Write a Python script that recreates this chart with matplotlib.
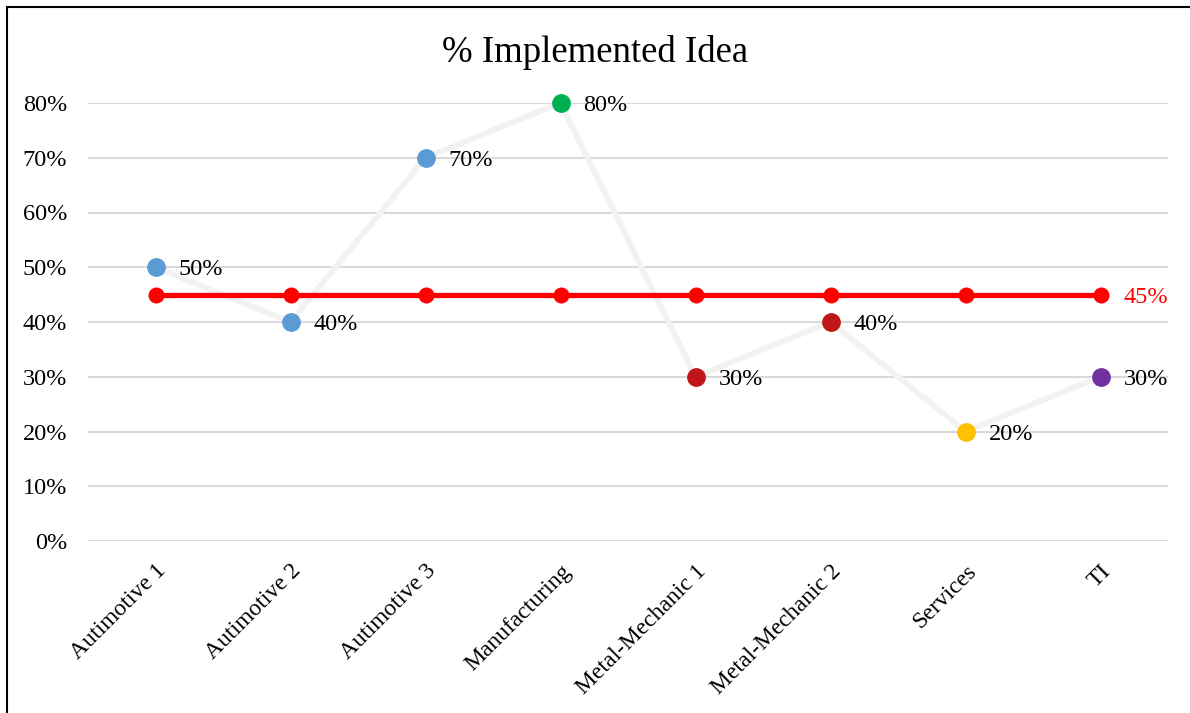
import matplotlib
matplotlib.use("Agg")
import matplotlib.pyplot as plt
from matplotlib.patches import Rectangle

categories = ["Autimotive 1", "Autimotive 2", "Autimotive 3", "Manufacturing",
              "Metal-Mechanic 1", "Metal-Mechanic 2", "Services", "TI"]
implemented = [0.50, 0.40, 0.70, 0.80, 0.30, 0.40, 0.20, 0.30]
point_colors = ["#5B9BD5", "#5B9BD5", "#5B9BD5", "#00B050",
                "#C0161A", "#C0161A", "#FFC000", "#7030A0"]
target = [0.45] * len(categories)
yticks = [0, 0.1, 0.2, 0.3, 0.4, 0.5, 0.6, 0.7, 0.8]

plt.rcParams['font.family'] = ['Liberation Serif', 'DejaVu Serif']

fig = plt.figure(figsize=(11.9, 7.13), dpi=100)
ax = fig.add_axes([88/1190, 172/713, 1080/1190, 438/713])

x = list(range(len(categories)))
ax.plot(x, implemented, color="#F2F2F2", lw=4.2, zorder=2, solid_capstyle='round',
        clip_on=False)
ax.plot(x, target, color="#FF0000", lw=3.8, marker='o', markersize=10.5,
        markerfacecolor="#FF0000", markeredgecolor="#FF0000", zorder=3, clip_on=False)
for xi, yi, c in zip(x, implemented, point_colors):
    ax.plot([xi], [yi], marker='o', markersize=12.5, color=c, markeredgecolor=c,
            linestyle='none', zorder=4, clip_on=False)
    ax.annotate(f"{yi*100:.0f}%", (xi, yi), xytext=(16.5, 0), textcoords='offset points',
                va='center_baseline', ha='left', fontsize=17.5, color="#000000", zorder=5)
ax.annotate(f"{target[-1]*100:.0f}%", (x[-1], target[-1]), xytext=(16.5, 0),
            textcoords='offset points', va='center_baseline', ha='left', fontsize=17.5,
            color="#FF0000", zorder=5)

ax.set_xlim(-0.5, len(categories) - 0.5)
ax.set_ylim(0, 0.8)
ax.set_yticks(yticks)
ax.set_yticklabels([f"{v*100:.0f}%" for v in yticks], fontsize=17.5)
ax.set_xticks(x)
ax.set_xticklabels(categories, rotation=45, ha='right', rotation_mode='anchor', fontsize=17)
ax.tick_params(length=0)
ax.tick_params(axis='y', pad=15)
ax.tick_params(axis='x', pad=14)
ax.yaxis.grid(True, color="#D9D9D9", lw=1.5)
ax.set_axisbelow(True)
for s in ax.spines.values():
    s.set_visible(False)

fig.text(0.5, 1 - 53/713, "% Implemented Idea", ha='center', va='center', fontsize=26.5)

fig.patches.append(Rectangle((7/1190, -0.1), 1.2, (713-7)/713 + 0.1,
                             transform=fig.transFigure, fill=False,
                             edgecolor='black', lw=1.5, zorder=10))

fig.savefig("out.png", dpi=100)
